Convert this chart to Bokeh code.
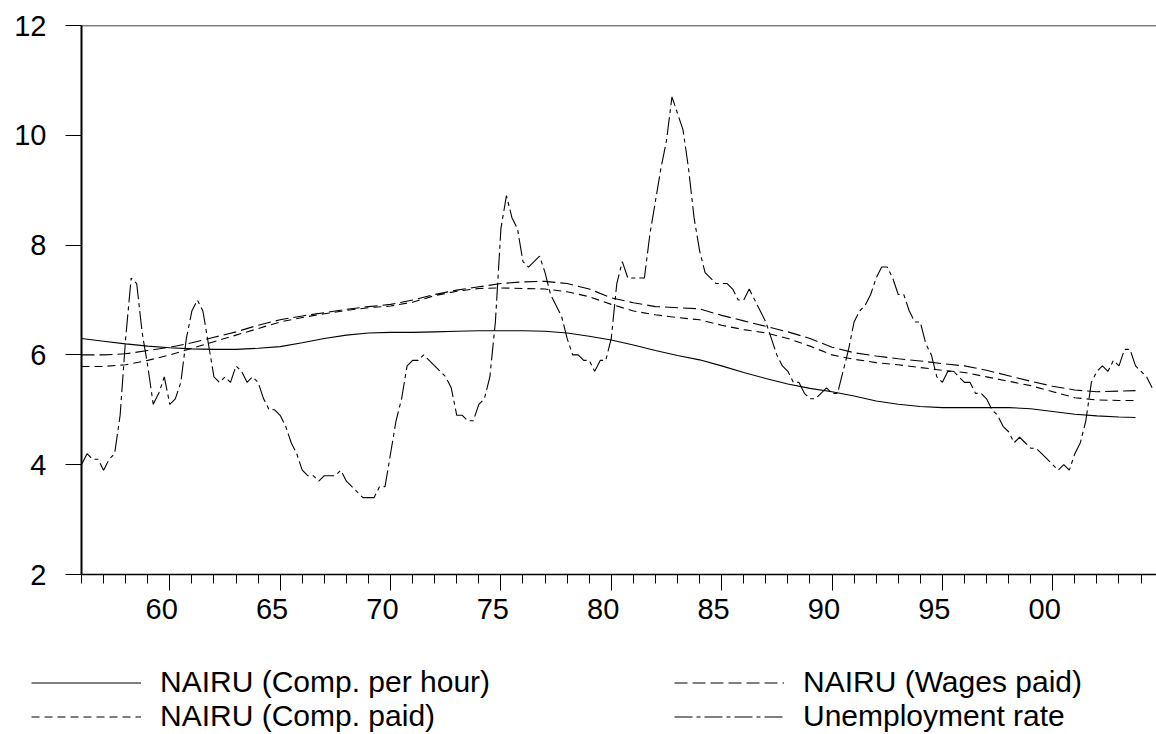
from bokeh.plotting import figure
from bokeh.models import Legend, LegendItem, Span, FixedTicker, ColumnDataSource
from bokeh.embed import file_html
from bokeh.resources import INLINE

FONT = "Liberation Sans"

# Quarterly civilian unemployment rate, 1956Q1 .. 2004Q3
unemp_start_year = 1956
unemployment_rate = [
    4.0, 4.2, 4.1, 4.1,   3.9, 4.1, 4.2, 4.9,   6.3, 7.4, 7.3, 6.4,   5.8, 5.1, 5.3, 5.6,
    5.1, 5.2, 5.5, 6.3,   6.8, 7.0, 6.8, 6.2,   5.6, 5.5, 5.6, 5.5,   5.8, 5.7, 5.5, 5.6,
    5.5, 5.2, 5.0, 5.0,   4.9, 4.7, 4.4, 4.2,   3.9, 3.8, 3.8, 3.7,   3.8, 3.8, 3.8, 3.9,
    3.7, 3.6, 3.5, 3.4,   3.4, 3.4, 3.6, 3.6,   4.2, 4.8, 5.2, 5.8,   5.9, 5.9, 6.0, 5.9,
    5.8, 5.7, 5.6, 5.4,   4.9, 4.9, 4.8, 4.8,   5.1, 5.2, 5.6, 6.6,   8.3, 8.9, 8.5, 8.3,
    7.7, 7.6, 7.7, 7.8,   7.5, 7.1, 6.9, 6.7,   6.3, 6.0, 6.0, 5.9,   5.9, 5.7, 5.9, 5.9,
    6.3, 7.3, 7.7, 7.4,   7.4, 7.4, 7.4, 8.2,   8.8, 9.4, 9.9, 10.7,  10.4, 10.1, 9.4, 8.5,
    7.9, 7.5, 7.4, 7.3,   7.3, 7.3, 7.2, 7.0,   7.0, 7.2, 7.0, 6.8,   6.6, 6.3, 6.0, 5.8,
    5.7, 5.5, 5.5, 5.3,   5.2, 5.2, 5.3, 5.4,   5.3, 5.3, 5.7, 6.1,   6.6, 6.8, 6.9, 7.1,
    7.4, 7.6, 7.6, 7.4,   7.1, 7.1, 6.8, 6.6,   6.6, 6.2, 6.0, 5.6,   5.5, 5.7, 5.7, 5.6,
    5.5, 5.5, 5.3, 5.3,   5.2, 5.0, 4.9, 4.7,   4.6, 4.4, 4.5, 4.4,   4.3, 4.3, 4.2, 4.1,
    4.0, 3.9, 4.0, 3.9,   4.2, 4.4, 4.8, 5.5,   5.7, 5.8, 5.7, 5.9,   5.8, 6.1, 6.1, 5.8,
    5.7, 5.6, 5.4,
]

# NAIRU estimates, sampled at the start of each year
nairu_years = [
    1956, 1957, 1958, 1959, 1960, 1961, 1962, 1963, 1964, 1965,
    1966, 1967, 1968, 1969, 1970, 1971, 1972, 1973, 1974, 1975,
    1976, 1977, 1978, 1979, 1980, 1981, 1982, 1983, 1984, 1985,
    1986, 1987, 1988, 1989, 1990, 1991, 1992, 1993, 1994, 1995,
    1996, 1997, 1998, 1999, 2000, 2001, 2002, 2003, 2003.75,
]
nairu_comp_per_hour = [
    6.30, 6.25, 6.20, 6.16, 6.13, 6.11, 6.10, 6.10, 6.12, 6.15,
    6.22, 6.30, 6.36, 6.40, 6.41, 6.41, 6.42, 6.43, 6.44, 6.44,
    6.44, 6.43, 6.40, 6.34, 6.27, 6.18, 6.08, 5.99, 5.91, 5.80,
    5.68, 5.57, 5.47, 5.39, 5.33, 5.25, 5.16, 5.10, 5.06, 5.04,
    5.04, 5.04, 5.04, 5.02, 4.97, 4.92, 4.89, 4.87, 4.86,
]
nairu_wages_paid = [
    6.00, 6.00, 6.02, 6.08, 6.14, 6.22, 6.32, 6.42, 6.54, 6.64,
    6.71, 6.77, 6.83, 6.88, 6.92, 7.00, 7.10, 7.18, 7.24, 7.30,
    7.33, 7.34, 7.30, 7.20, 7.04, 6.95, 6.88, 6.86, 6.84, 6.72,
    6.62, 6.52, 6.42, 6.30, 6.14, 6.04, 5.98, 5.93, 5.89, 5.84,
    5.80, 5.72, 5.62, 5.52, 5.43, 5.36, 5.33, 5.34, 5.35,
]
nairu_comp_paid = [
    5.79, 5.79, 5.82, 5.90, 6.00, 6.12, 6.24, 6.36, 6.48, 6.60,
    6.68, 6.75, 6.81, 6.86, 6.89, 6.96, 7.08, 7.16, 7.21, 7.22,
    7.21, 7.20, 7.15, 7.06, 6.92, 6.80, 6.73, 6.68, 6.64, 6.54,
    6.46, 6.40, 6.30, 6.16, 6.00, 5.92, 5.86, 5.82, 5.77, 5.72,
    5.68, 5.60, 5.52, 5.44, 5.33, 5.22, 5.18, 5.17, 5.17,
]

y_ticks = [2, 4, 6, 8, 10, 12]
x_major_ticks = [1960, 1965, 1970, 1975, 1980, 1985, 1990, 1995, 2000]
x_major_labels = ["60", "65", "70", "75", "80", "85", "90", "95", "00"]
x_minor_ticks = list(range(1956, 2005))

series_labels = ["NAIRU (Comp. per hour)", "NAIRU (Comp. paid)",
                 "NAIRU (Wages paid)", "Unemployment rate"]

# line styles shared by the chart and its key
STYLE_HOUR = dict(line_color="black", line_width=1.1)
STYLE_PAID = dict(line_color="black", line_width=1.1, line_dash="8 5")
STYLE_WAGES = dict(line_color="black", line_width=1.1, line_dash="13 5")
STYLE_UNEMP = dict(line_color="black", line_width=1.1, line_dash="18 4 4 4")

quarters = [unemp_start_year + i / 4 for i in range(len(unemployment_rate))]

p = figure(
    width=1156, height=630,
    x_range=(1956.0, 2004.7), y_range=(2, 12),
    output_backend="svg", toolbar_location=None,
    min_border_left=81, min_border_right=0,
    min_border_top=25, min_border_bottom=56,
)
p.outline_line_color = None
p.xgrid.visible = False
p.ygrid.visible = False
p.background_fill_color = "white"
p.border_fill_color = "white"

nairu_src = ColumnDataSource(dict(
    year=nairu_years,
    hour=nairu_comp_per_hour,
    wages=nairu_wages_paid,
    paid=nairu_comp_paid,
))
unemp_src = ColumnDataSource(dict(q=quarters, u=unemployment_rate))

p.line("year", "hour", source=nairu_src, **STYLE_HOUR)
p.line("year", "wages", source=nairu_src, **STYLE_WAGES)
p.line("year", "paid", source=nairu_src, **STYLE_PAID)
p.line("q", "u", source=unemp_src, **STYLE_UNEMP)

# top frame line
p.add_layout(Span(location=12, dimension="width", line_color="black", line_width=1.5))

xa = p.xaxis[0]
xa.ticker = FixedTicker(ticks=x_major_ticks, minor_ticks=x_minor_ticks)
# year labels sit slightly left of their tick marks
xa.major_label_overrides = {t: s + "\u00a0\u00a0" for t, s in zip(x_major_ticks, x_major_labels)}
xa.major_tick_out = 16
xa.major_tick_in = 0
xa.minor_tick_out = 9
xa.minor_tick_in = 0
xa.axis_line_width = 1.3
xa.major_label_standoff = 2
xa.major_label_text_font = FONT
xa.major_label_text_font_size = "29px"
xa.major_label_text_color = "black"
xa.axis_line_color = "black"
xa.major_tick_line_color = "black"
xa.minor_tick_line_color = "black"

ya = p.yaxis[0]
ya.ticker = FixedTicker(ticks=y_ticks)
ya.major_tick_out = 16
ya.major_tick_in = 0
ya.minor_tick_line_color = None
ya.axis_line_width = 2
ya.major_label_standoff = 19
ya.major_label_text_font = FONT
ya.major_label_text_font_size = "29px"
ya.major_label_text_color = "black"
ya.axis_line_color = "black"
ya.major_tick_line_color = "black"

# key panel below the chart (its own root, so its frame spans the full width)
k = figure(
    width=1156, height=104, x_range=(0, 1), y_range=(0, 1),
    output_backend="svg", toolbar_location=None,
    min_border=0,
)
k.axis.visible = False
k.xgrid.visible = False
k.ygrid.visible = False
k.outline_line_color = None
k.background_fill_color = "white"
k.border_fill_color = "white"

# stand-in renderers that only carry the line styles for the key
off = ColumnDataSource(dict(x=[5, 6], y=[5, 6]))
k_hour = k.line("x", "y", source=off, **STYLE_HOUR)
k_paid = k.line("x", "y", source=off, **STYLE_PAID)
k_wages = k.line("x", "y", source=off, **STYLE_WAGES)
k_unemp = k.line("x", "y", source=off, **STYLE_UNEMP)


def make_legend(items, loc):
    return Legend(
        items=items, location=loc, orientation="vertical",
        glyph_width=110, glyph_height=29, label_height=29,
        label_standoff=19, spacing=0, padding=0, margin=0,
        border_line_color=None, background_fill_alpha=0,
        label_text_font=FONT, label_text_font_size="30px",
        label_text_color="black",
    )


k.add_layout(make_legend(
    [LegendItem(label=series_labels[0], renderers=[k_hour]),
     LegendItem(label=series_labels[1], renderers=[k_paid])],
    (31, 1)), "center")
k.add_layout(make_legend(
    [LegendItem(label=series_labels[2], renderers=[k_wages]),
     LegendItem(label=series_labels[3], renderers=[k_unemp])],
    (674, 1)), "center")

open("out.html", "w").write(file_html([p, k], INLINE))
